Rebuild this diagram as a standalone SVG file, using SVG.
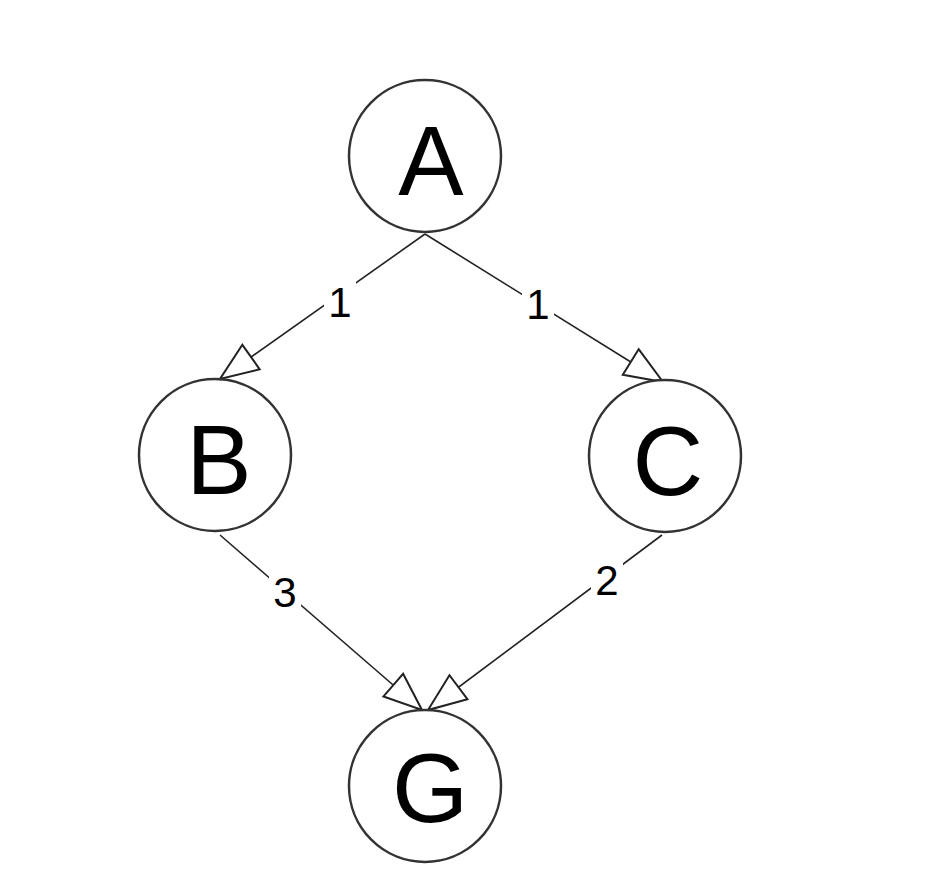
<svg xmlns="http://www.w3.org/2000/svg" width="942" height="878" viewBox="0 0 942 878">
<style>
.n{fill:#fff;stroke:#333;stroke-width:2.5}
.t{font-family:"Liberation Sans",Arial,sans-serif;font-size:98px;fill:#000;text-anchor:middle}
.e{stroke:#222;stroke-width:1.6;fill:none;marker-end:url(#ah)}
.l{font-family:"Liberation Sans",Arial,sans-serif;font-size:42px;fill:#000;text-anchor:middle}
.lb{fill:#fff}
</style>
<defs>
<marker id="ah" markerUnits="userSpaceOnUse" viewBox="-42 -18 46 36" refX="0" refY="0" markerWidth="46" markerHeight="36" orient="auto" overflow="visible">
<path d="M-38,-15 L0,0 L-38,15 Z" fill="#fff" stroke="#222" stroke-width="2"/>
</marker>
</defs>
<rect width="942" height="878" fill="#fff"/>
<g id="connectors">
<line class="e" x1="425" y1="234" x2="220" y2="379"/>
<line class="e" x1="425" y1="234" x2="663" y2="382"/>
<line class="e" x1="220" y1="535" x2="422" y2="710"/>
<line class="e" x1="662" y1="535" x2="428" y2="710"/>
<rect class="lb" x="324" y="278" width="32" height="44"/>
<text class="l" x="340" y="317">1</text>
<rect class="lb" x="522" y="280" width="32" height="44"/>
<text class="l" x="538" y="319">1</text>
<rect class="lb" x="269" y="568" width="32" height="44"/>
<text class="l" x="285" y="607">3</text>
<rect class="lb" x="591" y="556" width="32" height="44"/>
<text class="l" x="607" y="595">2</text>
</g>
<g id="A"><circle class="n" cx="425" cy="156" r="76"/><text class="t" x="431" y="195">A</text></g>
<g id="B"><circle class="n" cx="215" cy="455" r="76"/><text class="t" x="219" y="494">B</text></g>
<g id="C"><circle class="n" cx="665" cy="456" r="76"/><text class="t" x="668" y="495">C</text></g>
<g id="G"><circle class="n" cx="425" cy="786" r="76"/><text class="t" x="430" y="822">G</text></g>
</svg>
